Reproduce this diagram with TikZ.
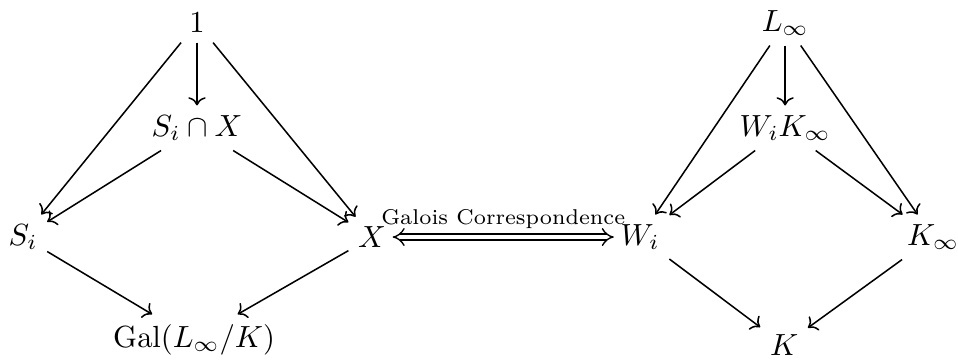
\documentclass[tikz,border=0pt]{standalone}
\usepackage{amsmath,amssymb}
\usetikzlibrary{arrows.meta,positioning}

\begin{document}
\begin{tikzpicture}[
  >=To,
  % plain object node
  obj/.style={inner sep=3pt},
  % arrows
  arr/.style={->, line width=0.5pt},
  corr/.style={Implies-Implies, double, double distance=1.6pt, line width=0.45pt,
               shorten <=-1pt, shorten >=-1pt},
  lbl/.style={font=\scriptsize, inner sep=1pt},
]
\useasboundingbox (0,0) rectangle (11.01,-4.126);

%% ── Left diamond (groups) ───────────────────────────────────────────────
\node[obj] (one)  at (2.264,-0.264) {$1$};
\node[obj] (SiX)  at (2.264,-1.471) {$S_i\cap X$};
\node[obj] (Si)   at (0.264,-2.724) {$S_i$};
\node[obj] (X)    at (4.276,-2.724) {$X$};
\node[obj] (Gal)  at (2.230,-3.900) {$\mathrm{Gal}(L_\infty/K)$};

%% ── Right diamond (fields) ──────────────────────────────────────────────
\node[obj] (Linf) at (9.023,-0.264) {$L_\infty$};
\node[obj] (WiK)  at (9.023,-1.471) {$W_iK_\infty$};
\node[obj] (Wi)   at (7.356,-2.724) {$W_i$};
\node[obj] (Kinf) at (10.724,-2.724) {$K_\infty$};
\node[obj] (K)    at (9.011,-3.966) {$K$};

%% ── Left arrows ─────────────────────────────────────────────────────────
\draw[arr] (one) -- (SiX);
\draw[arr] (one) -- (Si);
\draw[arr] (one) -- (X);
\draw[arr] (SiX) -- (Si);
\draw[arr] (SiX) -- (X);
\draw[arr] (Si)  -- (Gal);
\draw[arr] (X)   -- (Gal);

%% ── Right arrows ────────────────────────────────────────────────────────
\draw[arr] (Linf) -- (WiK);
\draw[arr] (Linf) -- (Wi);
\draw[arr] (Linf) -- (Kinf);
\draw[arr] (WiK)  -- (Wi);
\draw[arr] (WiK)  -- (Kinf);
\draw[arr] (Wi)   -- (K);
\draw[arr] (Kinf) -- (K);

%% ── Correspondence ──────────────────────────────────────────────────────
\draw[corr] (X.east) -- node[lbl,above=1.5pt]{Galois Correspondence} (Wi.west);

\end{tikzpicture}
\end{document}
